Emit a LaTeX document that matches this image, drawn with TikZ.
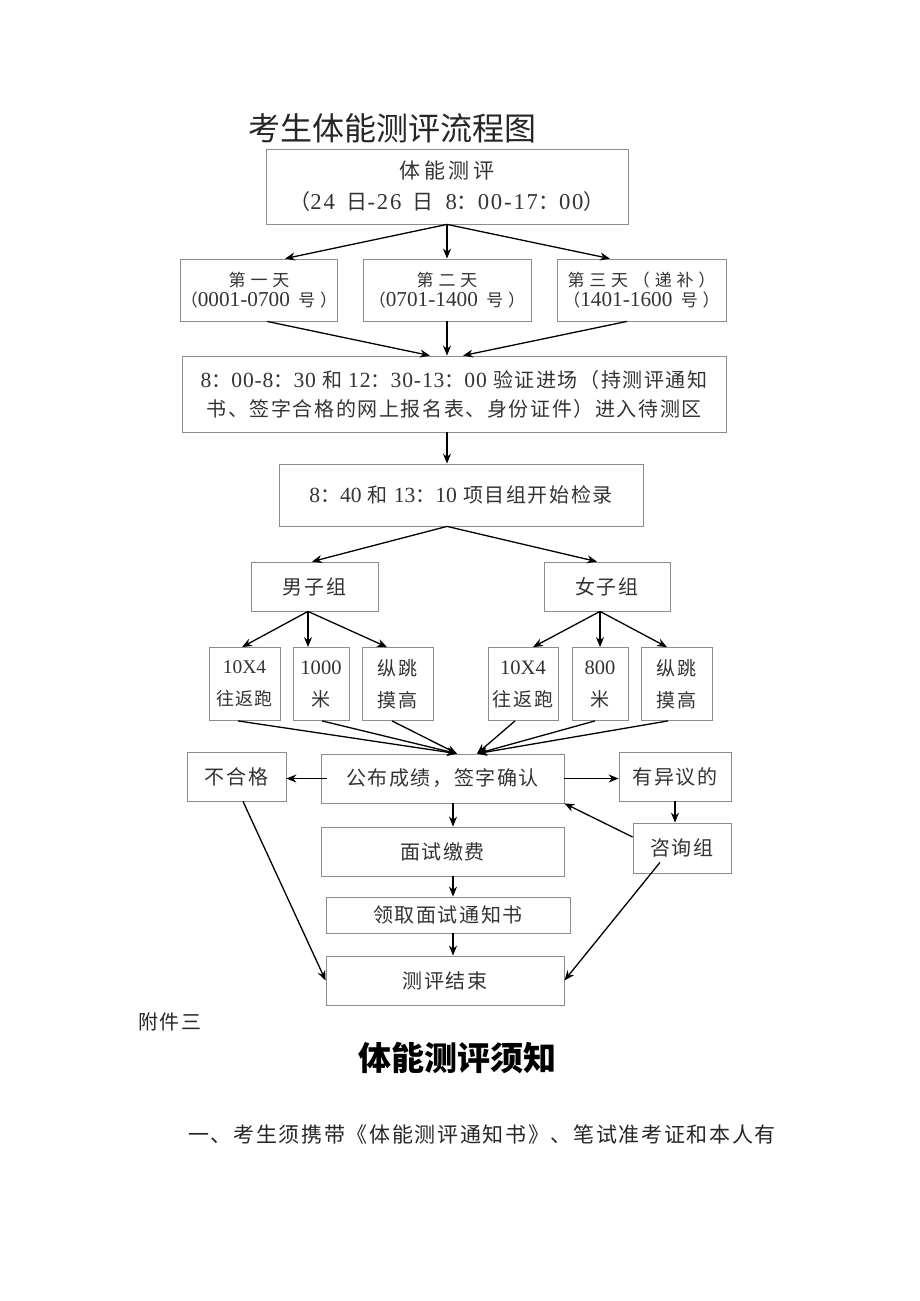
\documentclass[tikz,border=0pt]{standalone}
\usepackage{fontspec}
\setmainfont{Noto Sans CJK SC}[LetterSpace=8]
\newfontfamily\lat{Liberation Serif}[Scale=1.08]
\newfontfamily\latmid{Liberation Serif}[Scale=1.08,LetterSpace=4]
\newfontfamily\latwide{Liberation Serif}[Scale=1.08,LetterSpace=8]
\newfontfamily\latday{Liberation Serif}[Scale=1.25]
\newfontfamily\bigcjk{Noto Sans CJK SC}
\usepackage{tikz}
\usetikzlibrary{arrows.meta}

\begin{document}
\begin{tikzpicture}[x=1pt,y=-1pt,
    box/.style={draw=black!45,line width=0.8pt,inner sep=0pt,align=center,
      text=black!80,font=\fontsize{20}{30}\selectfont},
    daybox/.style={box,font=\fontsize{17}{20}\selectfont\addfontfeature{LetterSpace=28}},
    arr/.style={-{Stealth[length=10pt,width=8pt]},line width=1.3pt}]
  \useasboundingbox (0,0) rectangle (920,1301);
  \node[font=\bigcjk\fontsize{32}{32}\selectfont,text=black!85] (title) at (392,128) {考生体能测评流程图};
  % head and the three days
  \node[box,minimum width=362,minimum height=75,font=\fontsize{21}{31}\selectfont\addfontfeature{LetterSpace=16}] (test) at (447,186.5)
    {体能测评\\（{\latwide 24}\hspace{0.55em}日{\latwide -26}\hspace{0.55em}日\hspace{0.55em}{\latwide 8}：{\latwide 00-17}：{\latwide 00}）};
  \node[daybox,minimum width=154,minimum height=62] (dayone) at (259,290)
    {第一天\\（{\latday 0001-0700} 号）};
  \node[daybox,minimum width=168,minimum height=62] (daytwo) at (447,290)
    {第二天\\（{\latday 0701-1400} 号）};
  \node[daybox,minimum width=169,minimum height=62] (daythree) at (641.5,290)
    {第三天（递补）\\（{\latday 1401-1600} 号）};
  \node[box,minimum width=544,minimum height=76,font=\fontsize{20}{29}\selectfont] (entry) at (454,394)
    {{\latmid 8}：{\latmid 00-8}：{\latmid 30} 和 {\latmid 12}：{\latmid 30-13}：{\latmid 00} 验证进场（持测评通知\\
     书、签字合格的网上报名表、身份证件）进入待测区};
  \node[box,minimum width=364,minimum height=62] (check) at (461,495)
    {{\lat 8}：{\lat 40} 和 {\lat 13}：{\lat 10} 项目组开始检录};
  % groups and events
  \node[box,minimum width=127,minimum height=49] (boys) at (314.5,586.5) {男子组};
  \node[box,minimum width=126,minimum height=49] (girls) at (607,586.5) {女子组};
  \node[box,minimum width=71,minimum height=73,font=\fontsize{18}{32}\selectfont] (bshuttle) at (244.5,684) {{\lat 10X4}\\往返跑};
  \node[box,minimum width=56,minimum height=73,font=\fontsize{19}{32}\selectfont] (brun) at (321,684) {{\lat 1000}\\米};
  \node[box,minimum width=71,minimum height=73,font=\fontsize{19}{32}\selectfont] (bjump) at (397.5,684) {纵跳\\摸高};
  \node[box,minimum width=70,minimum height=73,font=\fontsize{19}{32}\selectfont] (gshuttle) at (523,684) {{\lat 10X4}\\往返跑};
  \node[box,minimum width=56,minimum height=73,font=\fontsize{19}{32}\selectfont] (grun) at (600,684) {{\lat 800}\\米};
  \node[box,minimum width=71,minimum height=73,font=\fontsize{19}{32}\selectfont] (gjump) at (676.5,684) {纵跳\\摸高};
  % results
  \node[box,minimum width=243,minimum height=49] (publish) at (442.5,778.5) {公布成绩，签字确认};
  \node[box,minimum width=99,minimum height=49] (fail) at (236.5,776.5) {不合格};
  \node[box,minimum width=112,minimum height=49] (objection) at (675,776.5) {有异议的};
  \node[box,minimum width=98,minimum height=50] (consult) at (682,848) {咨询组};
  \node[box,minimum width=243,minimum height=49] (fee) at (442.5,851.5) {面试缴费};
  \node[box,minimum width=244,minimum height=36] (notice) at (448,915) {领取面试通知书};
  \node[box,minimum width=238,minimum height=49] (finish) at (445,980.5) {测评结束};

  \draw[arr] (test.south) -- ([xshift=26]dayone.north);
  \draw[arr] (test.south) -- (daytwo.north);
  \draw[arr] (test.south) -- ([xshift=-31.5]daythree.north);
  \draw[arr] ([xshift=8]dayone.south) -- ([xshift=-24]entry.north);
  \draw[arr] (daytwo.south) -- ([xshift=-7]entry.north);
  \draw[arr] ([xshift=-14.5]daythree.south) -- ([xshift=9]entry.north);
  \draw[arr] ([xshift=-7]entry.south) -- ([xshift=-14]check.north);
  \draw[arr] ([xshift=-14]check.south) -- ([xshift=-2.5]boys.north);
  \draw[arr] ([xshift=-14]check.south) -- ([xshift=-10]girls.north);
  \draw[arr] ([xshift=-6.5]boys.south) -- ([xshift=-2.5]bshuttle.north);
  \draw[arr] ([xshift=-6.5]boys.south) -- ([xshift=-13]brun.north);
  \draw[arr] ([xshift=-6.5]boys.south) -- ([xshift=-10.5]bjump.north);
  \draw[arr] ([xshift=-7]girls.south) -- ([xshift=10]gshuttle.north);
  \draw[arr] ([xshift=-7]girls.south) -- (grun.north);
  \draw[arr] ([xshift=-7]girls.south) -- ([xshift=-9.5]gjump.north);
  \draw[arr] ([xshift=-6.5]bshuttle.south) -- ([xshift=14.5]publish.north);
  \draw[arr] ([xshift=1]brun.south) -- ([xshift=14.5]publish.north);
  \draw[arr] ([xshift=-5.5]bjump.south) -- ([xshift=14.5]publish.north);
  \draw[arr] ([xshift=-8]gshuttle.south) -- ([xshift=34.5]publish.north);
  \draw[arr] ([xshift=-5]grun.south) -- ([xshift=34.5]publish.north);
  \draw[arr] ([xshift=-8.5]gjump.south) -- ([xshift=34.5]publish.north);
  \draw[arr] ([xshift=6]publish.west) -- (publish.west -| fail.east);
  \draw[arr] (publish.east) -- (publish.east -| objection.west);
  \draw[arr] ([xshift=10.5]publish.south) -- ([xshift=10.5]fee.north);
  \draw[arr] ([xshift=10.5]fee.south) -- ([xshift=5]notice.north);
  \draw[arr] ([xshift=5]notice.south) -- ([xshift=8]finish.north);
  \draw[arr] (objection.south) -- ([xshift=-7]consult.north);
  \draw[arr] ([yshift=11]consult.west) -- (publish.south east);
  \draw[arr] ([xshift=-22,yshift=11]consult.south) -- (finish.east);
  \draw[arr] ([xshift=6.5]fail.south) -- (finish.west);

  % text below the chart
  \node[font=\fontsize{20}{20}\selectfont,text=black!85] (annex) at (170,1022) {附件三};
  \node[font=\bigcjk\bfseries\fontsize{33}{33}\selectfont] (rulestitle) at (457,1058) {体能测评须知};
  \node[font=\fontsize{21}{21}\selectfont,text=black!85] (ruleone) at (482,1135)
    {一、考生须携带《体能测评通知书》、笔试准考证和本人有};
\end{tikzpicture}
\end{document}
